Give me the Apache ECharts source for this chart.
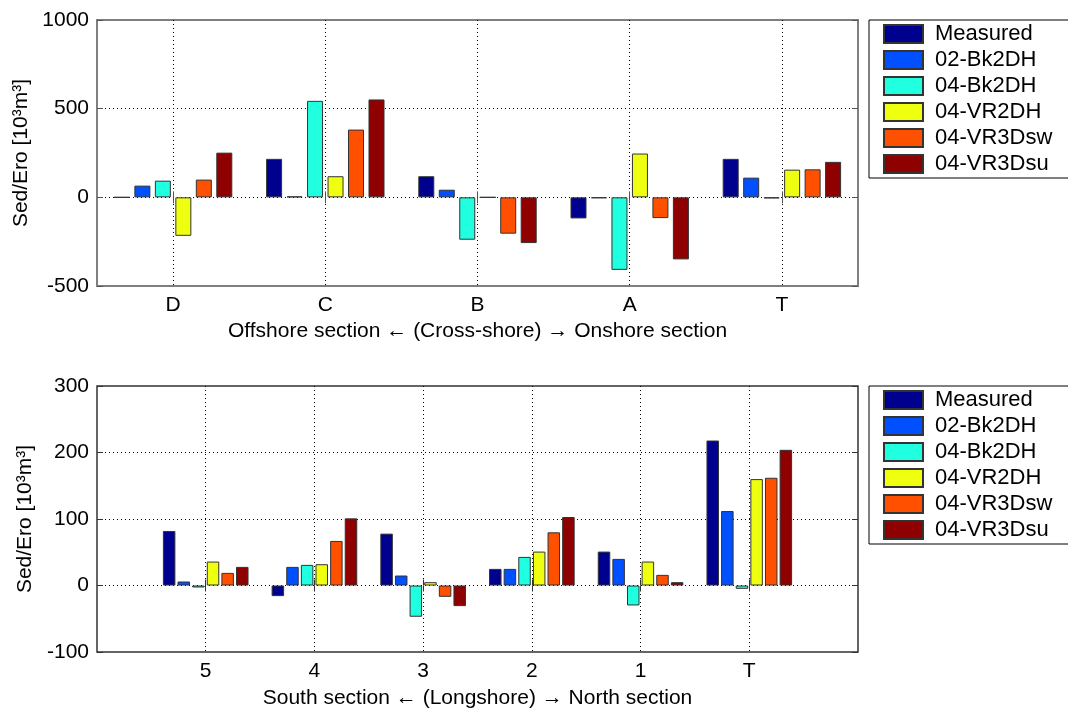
<!DOCTYPE html>
<html>
<head>
<meta charset="utf-8">
<title>Sed/Ero</title>
<script src="https://cdn.jsdelivr.net/npm/echarts@6/dist/echarts.min.js"></script>
<style>
html, body { margin: 0; padding: 0; background: #fff; }
#main { width: 1068px; height: 713px; }
</style>
</head>
<body>
<div id="main"></div>
<script>
var names = ['Measured', '02-Bk2DH', '04-Bk2DH', '04-VR2DH', '04-VR3Dsw', '04-VR3Dsu'];
var colors = ['#00008f', '#0050ff', '#20ffdf', '#efff10', '#ff5000', '#8f0000'];

// cross-shore sections (upper panel)
var crossCats = ['D', 'C', 'B', 'A', 'T'];
var crossMeasured = [0, 217, 119, -119, 217];
var cross02Bk2DH = [66, 5, 43, -5, 111];
var cross04Bk2DH = [94, 544, -239, -409, -6];
var cross04VR2DH = [-217, 119, 0, 247, 156];
var cross04VR3Dsw = [100, 382, -205, -117, 158];
var cross04VR3Dsu = [252, 552, -258, -350, 200];

// longshore sections (lower panel)
var longCats = ['5', '4', '3', '2', '1', 'T'];
var longMeasured = [82, -16, 78, 25, 51, 218];
var long02Bk2DH = [6, 28, 15, 25, 40, 112];
var long04Bk2DH = [-3, 31, -47, 43, -30, -5];
var long04VR2DH = [36, 32, 5, 51, 36, 160];
var long04VR3Dsw = [19, 67, -17, 80, 16, 162];
var long04VR3Dsu = [28, 101, -31, 103, 5, 204];

var crossSets = [crossMeasured, cross02Bk2DH, cross04Bk2DH, cross04VR2DH, cross04VR3Dsw, cross04VR3Dsu];
var longSets = [longMeasured, long02Bk2DH, long04Bk2DH, long04VR2DH, long04VR3Dsw, long04VR3Dsu];

var FONT = 'Liberation Sans, Arial, sans-serif';

// upper panel: half-slot spacing so the ticks sit in the middle of each band
var crossSlots = [''];
crossCats.forEach(function (c) { crossSlots.push(c, ''); });
function crossData(vals) {
    return crossSlots.map(function (s, i) { return i % 2 === 1 ? vals[(i - 1) / 2] : '-'; });
}
// lower panel: one empty slot on each side
var longSlots = [''].concat(longCats, ['']);
function longData(vals) {
    return ['-'].concat(vals, ['-']);
}

function catAxis(grid, slots, tickFn, name, gap, border, top) {
    return {
        type: 'category', gridIndex: grid, data: slots, boundaryGap: false,
        position: top ? 'top' : 'bottom',
        name: top ? '' : name, nameLocation: 'middle', nameGap: gap,
        nameTextStyle: { fontSize: 21, color: '#000', fontFamily: FONT },
        axisLine: { show: false },
        axisTick: { show: true, inside: true, length: 6, interval: tickFn, lineStyle: { color: border, width: 1 } },
        axisLabel: { show: !top, interval: 0, margin: 9, fontSize: 21, color: '#000', fontFamily: FONT },
        splitLine: { show: !top, interval: tickFn, lineStyle: { color: '#000', type: [1, 3], width: 1 } }
    };
}
function valAxis(grid, min, max, step, border, right) {
    return {
        type: 'value', gridIndex: grid, min: min, max: max, interval: step,
        position: right ? 'right' : 'left',
        name: right ? '' : 'Sed/Ero [10³m³]', nameLocation: 'middle', nameRotate: 90, nameGap: 50,
        nameTextStyle: { fontSize: 21, color: '#000', fontFamily: FONT },
        axisLine: { show: false },
        axisTick: { show: true, inside: true, length: 6, lineStyle: { color: border, width: 1 } },
        axisLabel: { show: !right, margin: 8, fontSize: 21, color: '#000', fontFamily: FONT,
            formatter: function (v) { return String(v); } },
        splitLine: { show: !right, showMinLine: false, showMaxLine: false, lineStyle: { color: '#000', type: [1, 3], width: 1 } }
    };
}

var crossTick = function (idx) { return idx % 2 === 1; };
var longTick = function (idx) { return idx > 0 && idx < longSlots.length - 1; };
var crossName = 'Offshore section \u2190 (Cross-shore) \u2192 Onshore section';
var longName = 'South section \u2190 (Longshore) \u2192 North section';

var series = [];
names.forEach(function (n, i) {
    series.push({
        name: n, type: 'bar', xAxisIndex: 0, yAxisIndex: 0,
        data: crossData(crossSets[i]), barWidth: 16, barGap: '28%',
        itemStyle: { color: colors[i], borderColor: '#333', borderWidth: 1 }
    });
});
names.forEach(function (n, i) {
    series.push({
        name: n, type: 'bar', xAxisIndex: 2, yAxisIndex: 2,
        data: longData(longSets[i]), barWidth: 12.5, barGap: '17%',
        itemStyle: { color: colors[i], borderColor: '#333', borderWidth: 1 }
    });
});

function legendBox(top) {
    return {
        data: names, orient: 'vertical', left: 869, top: top,
        itemWidth: 39, itemHeight: 18, itemGap: 4, icon: 'rect',
        padding: [3, 40, 3, 14], borderColor: '#000', borderWidth: 1, borderRadius: 0,
        selectedMode: false,
        textStyle: { fontSize: 22, color: '#000', fontFamily: FONT, padding: [0, 0, 0, 7] }
    };
}

var myChart = echarts.init(document.getElementById('main'), null, { renderer: 'canvas' });
var option = {
    animation: false,
    backgroundColor: '#fff',
    textStyle: { fontFamily: FONT },
    legend: [legendBox(20), legendBox(386)],
    grid: [
        { left: 97, right: 210, top: 20, height: 266, show: true, borderColor: '#7f7f7f', borderWidth: 2, outerBoundsMode: 'none' },
        { left: 97, right: 210, top: 386, height: 266, show: true, borderColor: '#333', borderWidth: 1.5, outerBoundsMode: 'none' }
    ],
    xAxis: [
        catAxis(0, crossSlots, crossTick, crossName, 35, '#555', false),
        catAxis(0, crossSlots, crossTick, crossName, 35, '#555', true),
        catAxis(1, longSlots, longTick, longName, 36, '#333', false),
        catAxis(1, longSlots, longTick, longName, 36, '#333', true)
    ],
    yAxis: [
        valAxis(0, -500, 1000, 500, '#555', false),
        valAxis(0, -500, 1000, 500, '#555', true),
        valAxis(1, -100, 300, 100, '#333', false),
        valAxis(1, -100, 300, 100, '#333', true)
    ],
    series: series
};
myChart.setOption(option);
</script>
</body>
</html>
